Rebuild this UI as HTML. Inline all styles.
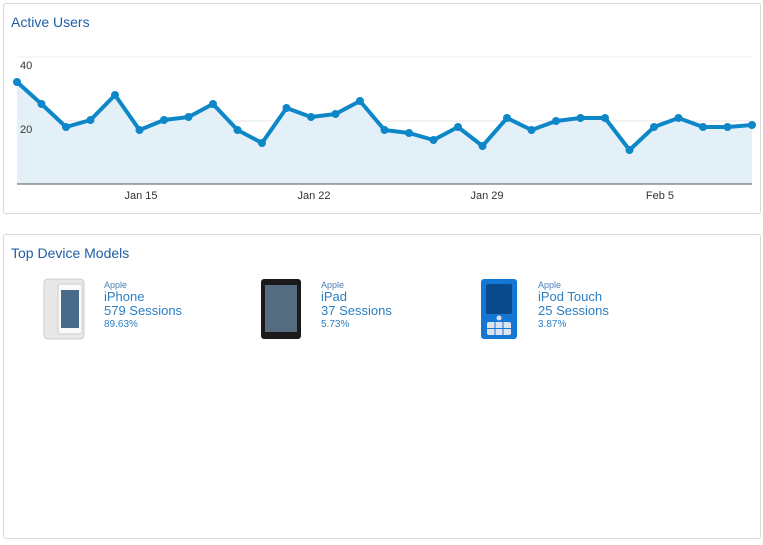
<!DOCTYPE html>
<html><head><style>
body{margin:0;width:763px;height:545px;background:#fff;font-family:"Liberation Sans",Arial,sans-serif;position:relative;overflow:hidden}
.panel{position:absolute;left:3px;width:756px;border:1px solid #d9d9d9;border-radius:3px;background:#fff}
.title{position:absolute;left:7px;font-size:14px;color:#1f5fa6}
.dev{position:absolute;top:280px;font-size:12px;color:#2b7fc4;line-height:14px}
.dev .s{font-size:9px;color:#4a7fb5;line-height:10px}
.dev .n{font-size:13px}
.dev .p{font-size:10px}
</style></head><body>
<div class="panel" style="top:3px;height:209px"><div class="title" style="top:10px">Active Users</div></div>
<div class="panel" style="top:234px;height:303px"><div class="title" style="top:10px">Top Device Models</div></div>
<svg style="position:absolute;left:0;top:0" width="763" height="545">
<line x1="17" y1="57" x2="752" y2="57" stroke="#eee"/>
<line x1="17" y1="121" x2="752" y2="121" stroke="#e6e6e6"/>
<polygon fill="#e3f0f8" points="17,184 17,82 41.5,104 66,127 90.5,120 115,95 139.5,130 164,120 188.5,117 213,104 237.5,130 262,143 286.5,108 311,117 335.5,114 360,101 384.5,130 409,133 433.5,140 458,127 482.5,146 507,118 531.5,130 556,121 580.5,118 605,118 629.5,150 654,127 678.5,118 703,127 727.5,127 752,125 752,184"/>
<polyline fill="none" stroke="#0e87c8" stroke-width="4" stroke-linejoin="round" points="17,82 41.5,104 66,127 90.5,120 115,95 139.5,130 164,120 188.5,117 213,104 237.5,130 262,143 286.5,108 311,117 335.5,114 360,101 384.5,130 409,133 433.5,140 458,127 482.5,146 507,118 531.5,130 556,121 580.5,118 605,118 629.5,150 654,127 678.5,118 703,127 727.5,127 752,125"/>
<g fill="#0e87c8">
<circle cx="17" cy="82" r="4"/><circle cx="41.5" cy="104" r="4"/><circle cx="66" cy="127" r="4"/><circle cx="90.5" cy="120" r="4"/><circle cx="115" cy="95" r="4"/><circle cx="139.5" cy="130" r="4"/><circle cx="164" cy="120" r="4"/><circle cx="188.5" cy="117" r="4"/><circle cx="213" cy="104" r="4"/><circle cx="237.5" cy="130" r="4"/><circle cx="262" cy="143" r="4"/><circle cx="286.5" cy="108" r="4"/><circle cx="311" cy="117" r="4"/><circle cx="335.5" cy="114" r="4"/><circle cx="360" cy="101" r="4"/><circle cx="384.5" cy="130" r="4"/><circle cx="409" cy="133" r="4"/><circle cx="433.5" cy="140" r="4"/><circle cx="458" cy="127" r="4"/><circle cx="482.5" cy="146" r="4"/><circle cx="507" cy="118" r="4"/><circle cx="531.5" cy="130" r="4"/><circle cx="556" cy="121" r="4"/><circle cx="580.5" cy="118" r="4"/><circle cx="605" cy="118" r="4"/><circle cx="629.5" cy="150" r="4"/><circle cx="654" cy="127" r="4"/><circle cx="678.5" cy="118" r="4"/><circle cx="703" cy="127" r="4"/><circle cx="727.5" cy="127" r="4"/><circle cx="752" cy="125" r="4"/>
</g>
<line x1="17" y1="184" x2="752" y2="184" stroke="#555"/>
<g font-family="Liberation Sans,Arial,sans-serif" font-size="11" fill="#333">
<text x="20" y="69">40</text><text x="20" y="133">20</text>
<text x="141" y="199" text-anchor="middle">Jan 15</text>
<text x="314" y="199" text-anchor="middle">Jan 22</text>
<text x="487" y="199" text-anchor="middle">Jan 29</text>
<text x="660" y="199" text-anchor="middle">Feb 5</text>
</g>
<!-- iPhone -->
<rect x="44" y="279" width="40" height="60" rx="4" fill="#e8e8e8" stroke="#ccc"/>
<rect x="58" y="284" width="24" height="50" rx="2" fill="#fafafa" stroke="#ccc"/>
<rect x="61" y="290" width="18" height="38" fill="#4a6a8a"/>
<!-- iPad -->
<rect x="261" y="279" width="40" height="60" rx="3" fill="#1a1a1a"/>
<rect x="265" y="285" width="32" height="47" fill="#556b80"/>
<!-- iPod -->
<rect x="481" y="279" width="36" height="60" rx="3" fill="#1477d4"/>
<rect x="486" y="284" width="26" height="30" rx="2" fill="#0a4a8c"/>
<circle cx="499" cy="318" r="2.5" fill="#dde"/>
<rect x="487" y="322" width="24" height="13" rx="2" fill="#dde4ee"/>
<line x1="487" y1="328.5" x2="511" y2="328.5" stroke="#1477d4"/>
<line x1="495" y1="322" x2="495" y2="335" stroke="#1477d4"/><line x1="503" y1="322" x2="503" y2="335" stroke="#1477d4"/>
</svg>
<div class="dev" style="left:104px"><div class="s">Apple</div><div class="n">iPhone</div><div class="n">579 Sessions</div><div class="p">89.63%</div></div>
<div class="dev" style="left:321px"><div class="s">Apple</div><div class="n">iPad</div><div class="n">37 Sessions</div><div class="p">5.73%</div></div>
<div class="dev" style="left:538px"><div class="s">Apple</div><div class="n">iPod Touch</div><div class="n">25 Sessions</div><div class="p">3.87%</div></div>
</body></html>
